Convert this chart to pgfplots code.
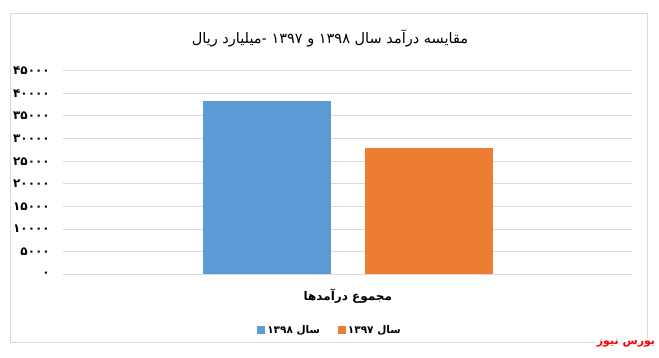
\documentclass[border=0pt]{standalone}
\usepackage{fontspec}
\usepackage{pgfplots}
\pgfplotsset{compat=1.18}
\TeXXeTstate=1
\newfontfamily\arabicfont[Script=Arabic]{DejaVu Sans}
\setmainfont{DejaVu Sans}
\definecolor{barblue}{RGB}{91,155,213}
\definecolor{barorange}{RGB}{237,125,49}
\definecolor{gridgray}{RGB}{217,217,217}
\begin{document}
\begin{tikzpicture}[x=1pt,y=1pt]
\useasboundingbox (0,0) rectangle (659,357);
\draw[gridgray, line width=0.9pt] (10.5,15) rectangle (647.5,344);
\begin{axis}[
  at={(63.3pt,82.7pt)}, anchor=south west,
  scale only axis, width=569pt, height=203.6pt,
  ymin=0, ymax=45000,
  xmin=-1, xmax=1,
  scaled y ticks=false,
  axis line style={draw=none},
  ytick={0,5000,10000,15000,20000,25000,30000,35000,40000,45000},
  yticklabels={
    {\hbox{\arabicfont\bfseries ۰}},
    {\hbox{\arabicfont\bfseries ۵۰۰۰}},
    {\hbox{\arabicfont\bfseries ۱۰۰۰۰}},
    {\hbox{\arabicfont\bfseries ۱۵۰۰۰}},
    {\hbox{\arabicfont\bfseries ۲۰۰۰۰}},
    {\hbox{\arabicfont\bfseries ۲۵۰۰۰}},
    {\hbox{\arabicfont\bfseries ۳۰۰۰۰}},
    {\hbox{\arabicfont\bfseries ۳۵۰۰۰}},
    {\hbox{\arabicfont\bfseries ۴۰۰۰۰}},
    {\hbox{\arabicfont\bfseries ۴۵۰۰۰}}},
  yticklabel style={font=\fontsize{12}{13}\selectfont, anchor=east, xshift=-10pt},
  xtick={0},
  xticklabels={{\hbox{\arabicfont\bfseries\beginR مجموع درآمدها\endR}}},
  xticklabel style={font=\fontsize{12}{13}\selectfont, yshift=-11pt},
  major tick length=0pt,
  ymajorgrids, grid style={gridgray, line width=0.9pt},
  ybar, bar width=128pt,
  legend columns=2,
  legend style={draw=none, at={(0.4687,-0.2736)}, anchor=center,
    font=\fontsize{10.5}{12}\selectfont,
    /tikz/every even column/.append style={column sep=16pt}},
  legend image code/.code={\fill[#1] (0pt,-4pt) rectangle (8pt,4pt);},
]
\addplot[fill=barblue, draw=none, bar shift=-81pt] coordinates {(0,38200)};
\addlegendentry{\arabicfont\bfseries\beginR سال ۱۳۹۸\endR}
\addplot[fill=barorange, draw=none, bar shift=81pt] coordinates {(0,27900)};
\addlegendentry{\arabicfont\bfseries\beginR سال ۱۳۹۷\endR}
\end{axis}
\node[font=\arabicfont\fontsize{14.5}{16}\selectfont] at (330,319) {\beginR مقایسه درآمد سال ۱۳۹۸ و ۱۳۹۷ -میلیارد ریال\endR};
\node[font=\arabicfont\bfseries\fontsize{11}{13}\selectfont, text=red, fill=white, inner sep=1pt] at (626,14) {\beginR بورس نیوز\endR};
\end{tikzpicture}
\end{document}
